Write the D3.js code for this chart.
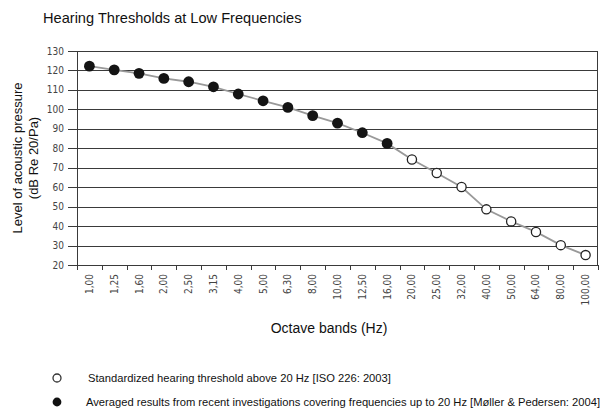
<!DOCTYPE html>
<html>
<head>
<meta charset="utf-8">
<script src="https://cdn.jsdelivr.net/npm/d3@7"></script>
<style>
  body { margin: 0; background: #fff; }
  svg { display: block; font-family: "Liberation Sans", Arial, sans-serif; }
  .tick-label { font-family: "Liberation Sans Narrow", "DejaVu Sans Condensed", "Liberation Sans", sans-serif; fill: #444; }
</style>
</head>
<body>
<div id="chart"></div>
<script>
// Octave band labels and threshold levels (dB)
const bands = ["1,00","1,25","1,60","2,00","2,50","3,15","4,00","5,00","6,30","8,00","10,00",
  "12,50","16,00","20,00","25,00","32,00","40,00","50,00","64,00","80,00","100,00"];
const levels = [122.2, 120.3, 118.5, 115.9, 114.2, 111.6, 107.9, 104.4, 101, 96.8, 92.9,
  88, 82.5, 74.2, 67.3, 60.1, 48.6, 42.4, 37, 30.2, 25.1];
// true = averaged results (filled), false = ISO 226 (open)
const filled = bands.map((b, i) => i < 13);
const yTicks = [20, 30, 40, 50, 60, 70, 80, 90, 100, 110, 120, 130];
const legendItems = [
  { open: true,  label: "Standardized hearing threshold above 20 Hz [ISO 226: 2003]" },
  { open: false, label: "Averaged results from recent investigations covering frequencies up to 20 Hz [Møller & Pedersen: 2004]" }
];

const W = 608, H = 412;
const margin = { top: 51, right: 10, bottom: 147, left: 77 };
const width = W - margin.left - margin.right;
const height = H - margin.top - margin.bottom;

const svg = d3.select("#chart").append("svg")
  .attr("width", W).attr("height", H);

svg.append("text")
  .attr("x", 43).attr("y", 23)
  .style("font-size", "14.6px")
  .attr("fill", "#111")
  .text("Hearing Thresholds at Low Frequencies");

const g = svg.append("g").attr("transform", `translate(${margin.left},${margin.top})`);

const x = d3.scaleBand().domain(bands).range([0, width]);
const y = d3.scaleLinear().domain([20, 130]).range([height, 0]);

// gridlines (extending left as ticks)
g.selectAll(".grid")
  .data(yTicks)
  .join("line")
    .attr("x1", -9).attr("x2", width)
    .attr("y1", d => Math.round(y(d)) + 0.5).attr("y2", d => Math.round(y(d)) + 0.5)
    .attr("stroke", "#3a3a3a").attr("stroke-width", 1);

// y axis labels
g.selectAll(".ylab")
  .data(yTicks)
  .join("text")
    .attr("class", "tick-label")
    .attr("x", -13).attr("y", d => y(d))
    .attr("dy", "0.35em")
    .attr("text-anchor", "end")
    .style("font-size", "10px")
    .text(d => d);

// axis frame
g.append("line").attr("x1", 0.5).attr("x2", 0.5).attr("y1", 0).attr("y2", height)
  .attr("stroke", "#3a3a3a");
g.append("line").attr("x1", width - 0.5).attr("x2", width - 0.5).attr("y1", 0).attr("y2", height)
  .attr("stroke", "#3a3a3a");

// x axis ticks at band boundaries
const bounds = bands.map(b => x(b)).concat([width]);
g.selectAll(".xtick")
  .data(bounds)
  .join("line")
    .attr("x1", d => Math.round(d) + 0.5).attr("x2", d => Math.round(d) + 0.5)
    .attr("y1", height).attr("y2", height + 5)
    .attr("stroke", "#3a3a3a");

g.selectAll(".xlab")
  .data(bands)
  .join("text")
    .attr("class", "tick-label")
    .attr("transform", d => `translate(${x(d) + x.bandwidth() / 2 + 3.5},${height + 9}) rotate(-90)`)
    .attr("text-anchor", "end")
    .style("font-size", "10px")
    .text(d => d);

// connecting line
const pts = bands.map((b, i) => ({ band: b, level: levels[i], filled: filled[i] }));
g.append("path")
  .datum(pts)
  .attr("fill", "none")
  .attr("stroke", "#999")
  .attr("stroke-width", 1.8)
  .attr("d", d3.line().x(d => x(d.band) + x.bandwidth() / 2).y(d => y(d.level)));

g.selectAll(".dot")
  .data(pts)
  .join("circle")
    .attr("cx", d => x(d.band) + x.bandwidth() / 2)
    .attr("cy", d => y(d.level))
    .attr("r", d => d.filled ? 5.4 : 4.6)
    .attr("fill", d => d.filled ? "#141414" : "#fff")
    .attr("stroke", "#222")
    .attr("stroke-width", d => d.filled ? 0 : 1.3);

// axis titles
svg.append("text")
  .attr("transform", `translate(22,${margin.top + height / 2}) rotate(-90)`)
  .attr("text-anchor", "middle")
  .style("font-size", "13px")
  .attr("fill", "#111")
  .text("Level of acoustic pressure");
svg.append("text")
  .attr("transform", `translate(38,${margin.top + height / 2}) rotate(-90)`)
  .attr("text-anchor", "middle")
  .style("font-size", "13px")
  .attr("fill", "#111")
  .text("(dB Re 20/Pa)");

svg.append("text")
  .attr("x", 329).attr("y", 333)
  .attr("text-anchor", "middle")
  .style("font-size", "14px")
  .attr("fill", "#111")
  .text("Octave bands (Hz)");

// legend
const leg = svg.append("g");
legendItems.forEach((d, i) => {
  const cy = 378 + i * 24;
  leg.append("circle")
    .attr("cx", 57).attr("cy", cy)
    .attr("r", d.open ? 4 : 4.4)
    .attr("fill", d.open ? "#fff" : "#111")
    .attr("stroke", "#333").attr("stroke-width", d.open ? 1.3 : 0);
  leg.append("text")
    .attr("x", d.open ? 88 : 86).attr("y", cy).attr("dy", "0.35em")
    .style("font-size", "11.2px")
    .attr("fill", "#111")
    .text(d.label);
});
</script>
</body>
</html>
